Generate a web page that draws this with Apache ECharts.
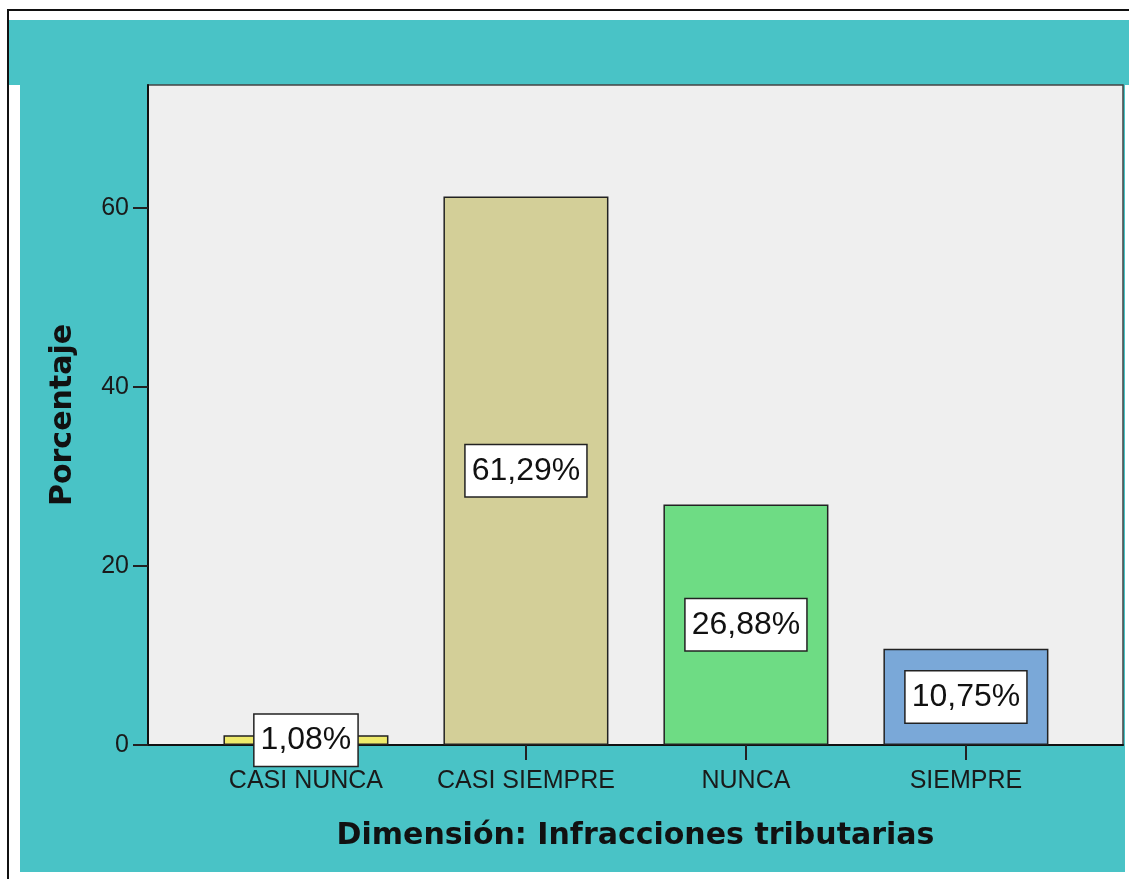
<!DOCTYPE html>
<html>
<head>
<meta charset="utf-8">
<title>Dimensión: Infracciones tributarias</title>
<script src="https://cdn.jsdelivr.net/npm/echarts@6/dist/echarts.min.js"></script>
<style>
  html, body { margin: 0; padding: 0; background: #fff; }
  #chart { width: 1129px; height: 879px; }
</style>
</head>
<body>
<div id="chart"></div>
<script>
// data
const categories = ["CASI NUNCA", "CASI SIEMPRE", "NUNCA", "SIEMPRE"];
const percentages = [1.08, 61.29, 26.88, 10.75];
const barColors = ["#EEEA6B", "#D3CF98", "#6EDC84", "#7AA8D8"];
const yTicks = [0, 20, 40, 60];

const teal = "#49C3C6";
const chart = echarts.init(document.getElementById("chart"));

const barData = percentages.map((v, i) => ({
  value: [i, v],
  itemStyle: { color: barColors[i] }
}));

const option = {
  backgroundColor: "#ffffff",
  animation: false,
  graphic: [
    { type: "rect", z: -10, shape: { x: 9, y: 20, width: 1120, height: 65 }, style: { fill: teal } },
    { type: "rect", z: -10, shape: { x: 20, y: 85, width: 1105, height: 787 }, style: { fill: teal } },
    { type: "rect", z: -9, shape: { x: 8, y: 9, width: 1121, height: 2 }, style: { fill: "#111" } },
    { type: "rect", z: -9, shape: { x: 7, y: 9, width: 2, height: 870 }, style: { fill: "#111" } }
  ],
  grid: {
    left: 148,
    right: 6,
    top: 85,
    bottom: 134,
    show: true,
    backgroundColor: "#EFEFEF",
    borderColor: "#444",
    borderWidth: 1.5
  },
  xAxis: {
    type: "value",
    min: -0.718,
    max: 3.714,
    name: "Dimensión: Infracciones tributarias",
    nameLocation: "middle",
    nameGap: 76,
    nameTextStyle: {
      fontFamily: "DejaVu Sans",
      fontWeight: "bold",
      fontSize: 30,
      color: "#111"
    },
    axisLine: { show: true, onZero: false, lineStyle: { color: "#111", width: 2 } },
    axisTick: { show: true, length: 15, customValues: [0, 1, 2, 3], lineStyle: { color: "#222", width: 2 } },
    axisLabel: {
      customValues: [0, 1, 2, 3],
      margin: 24,
      fontFamily: "Liberation Sans",
      fontSize: 25,
      color: "#1a1a1a",
      formatter: (v) => categories[Math.round(v)] || ""
    },
    splitLine: { show: false }
  },
  yAxis: {
    type: "value",
    min: 0,
    max: 73.74,
    name: "Porcentaje",
    nameLocation: "middle",
    nameGap: 70,
    nameTextStyle: {
      fontFamily: "DejaVu Sans",
      fontWeight: "bold",
      fontSize: 30,
      color: "#111"
    },
    axisLine: { show: true, onZero: false, lineStyle: { color: "#111", width: 2 } },
    axisTick: { show: true, length: 15, customValues: yTicks, lineStyle: { color: "#222", width: 2 } },
    axisLabel: {
      customValues: yTicks,
      margin: 19,
      fontFamily: "Liberation Sans",
      fontSize: 25,
      color: "#1a1a1a"
    },
    splitLine: { show: false }
  },
  series: [
    {
      type: "bar",
      barWidth: 165,
      data: barData,
      itemStyle: { borderColor: "#222", borderWidth: 1.5 },
      label: {
        show: true,
        position: "inside",
        fontFamily: "Liberation Sans",
        fontSize: 32,
        lineHeight: 37,
        color: "#111",
        backgroundColor: "#ffffff",
        borderColor: "#222",
        borderWidth: 1.5,
        padding: [7, 6],
        formatter: (p) => p.value[1].toFixed(2).replace(".", ",") + "%"
      }
    }
  ]
};

chart.setOption(option);
</script>
</body>
</html>
